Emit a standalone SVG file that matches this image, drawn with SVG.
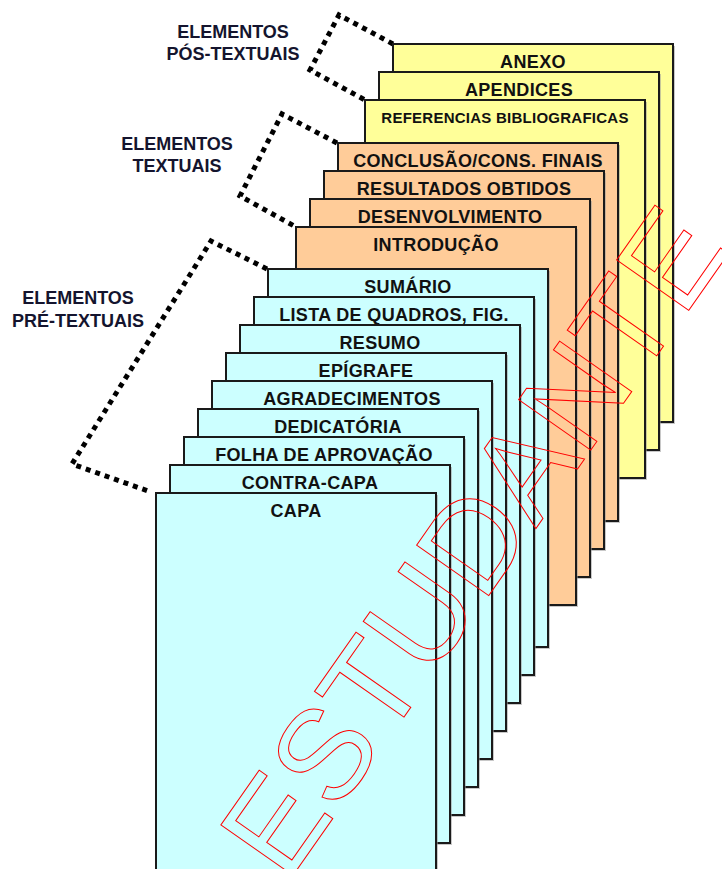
<svg xmlns="http://www.w3.org/2000/svg" width="722" height="869" viewBox="0 0 722 869">
<style>
.sh{fill:#9a9a9a;opacity:0.55}
.pg{stroke:#1a1a1a;stroke-width:2}
.cy{fill:#ccffff}
.or{fill:#ffcc99}
.ye{fill:#ffff99}
.lb{font-family:"Liberation Sans",Arial,sans-serif;font-weight:bold;font-size:18px;fill:#111;text-anchor:middle;letter-spacing:0.35px}
.sm{font-size:15px;letter-spacing:0.25px}
.gl{font-family:"Liberation Sans",Arial,sans-serif;font-weight:bold;font-size:18px;fill:#14142e;text-anchor:middle}
.br{fill:none;stroke:#000;stroke-width:5;stroke-dasharray:5 5}
.wm{font-family:"Liberation Sans",Arial,sans-serif;font-size:128px;fill:none;stroke:#ff0000;stroke-width:1}
</style>
<rect width="722" height="869" fill="#fff"/>
<g id="label-pos">
<text class="gl" x="233" y="38">ELEMENTOS</text>
<text class="gl" x="233" y="60">PÓS-TEXTUAIS</text>
</g>
<g id="label-textuais">
<text class="gl" x="177" y="150">ELEMENTOS</text>
<text class="gl" x="177" y="172">TEXTUAIS</text>
</g>
<g id="label-pre">
<text class="gl" x="78" y="304">ELEMENTOS</text>
<text class="gl" x="78" y="327">PRÉ-TEXTUAIS</text>
</g>
<g id="connectors">
<polyline class="br" points="393,44 339,15 310,70 365,100"/>
<polyline class="br" points="337,143 282,114 240,196 296,227"/>
<polyline class="br" points="267,269 211,241 72,464 148,491"/>
</g>
<g id="anexo"><rect class="sh" x="395" y="46" width="280" height="378"/><rect class="pg ye" x="393" y="44" width="280" height="378"/><text class="lb" x="533" y="68">ANEXO</text></g>
<g id="apendices"><rect class="sh" x="381" y="74" width="280" height="378"/><rect class="pg ye" x="379" y="72" width="280" height="378"/><text class="lb" x="519" y="96">APENDICES</text></g>
<g id="referencias"><rect class="sh" x="367" y="102" width="280" height="378"/><rect class="pg ye" x="365" y="100" width="280" height="378"/><text class="lb sm" x="505" y="123">REFERENCIAS BIBLIOGRAFICAS</text></g>
<g id="conclusao"><rect class="sh" x="340" y="145" width="280" height="378"/><rect class="pg or" x="338" y="143" width="280" height="378"/><text class="lb" x="478" y="167">CONCLUSÃO/CONS. FINAIS</text></g>
<g id="resultados"><rect class="sh" x="326" y="173" width="280" height="378"/><rect class="pg or" x="324" y="171" width="280" height="378"/><text class="lb" x="464" y="195">RESULTADOS OBTIDOS</text></g>
<g id="desenvolvimento"><rect class="sh" x="312" y="201" width="280" height="378"/><rect class="pg or" x="310" y="199" width="280" height="378"/><text class="lb" x="450" y="223">DESENVOLVIMENTO</text></g>
<g id="introducao"><rect class="sh" x="298" y="229" width="280" height="378"/><rect class="pg or" x="296" y="227" width="280" height="378"/><text class="lb" x="436" y="251">INTRODUÇÃO</text></g>
<g id="sumario"><rect class="sh" x="270" y="271" width="280" height="378"/><rect class="pg cy" x="268" y="269" width="280" height="378"/><text class="lb" x="408" y="293">SUMÁRIO</text></g>
<g id="lista"><rect class="sh" x="256" y="299" width="280" height="378"/><rect class="pg cy" x="254" y="297" width="280" height="378"/><text class="lb" x="394" y="321">LISTA DE QUADROS, FIG.</text></g>
<g id="resumo"><rect class="sh" x="242" y="327" width="280" height="378"/><rect class="pg cy" x="240" y="325" width="280" height="378"/><text class="lb" x="380" y="349">RESUMO</text></g>
<g id="epigrafe"><rect class="sh" x="228" y="355" width="280" height="378"/><rect class="pg cy" x="226" y="353" width="280" height="378"/><text class="lb" x="366" y="377">EPÍGRAFE</text></g>
<g id="agradecimentos"><rect class="sh" x="214" y="383" width="280" height="378"/><rect class="pg cy" x="212" y="381" width="280" height="378"/><text class="lb" x="352" y="405">AGRADECIMENTOS</text></g>
<g id="dedicatoria"><rect class="sh" x="200" y="411" width="280" height="378"/><rect class="pg cy" x="198" y="409" width="280" height="378"/><text class="lb" x="338" y="433">DEDICATÓRIA</text></g>
<g id="folha"><rect class="sh" x="186" y="439" width="280" height="378"/><rect class="pg cy" x="184" y="437" width="280" height="378"/><text class="lb" x="324" y="461">FOLHA DE APROVAÇÃO</text></g>
<g id="contracapa"><rect class="sh" x="172" y="467" width="280" height="378"/><rect class="pg cy" x="170" y="465" width="280" height="378"/><text class="lb" x="310" y="489">CONTRA-CAPA</text></g>
<g id="capa"><rect class="sh" x="158" y="495" width="280" height="378"/><rect class="pg cy" x="156" y="493" width="280" height="378"/><text class="lb" x="296" y="517">CAPA</text></g>
<g id="watermark"><text class="wm" transform="translate(287,884) rotate(-55)" x="0" y="0">ESTUDANTE</text></g>
</svg>
